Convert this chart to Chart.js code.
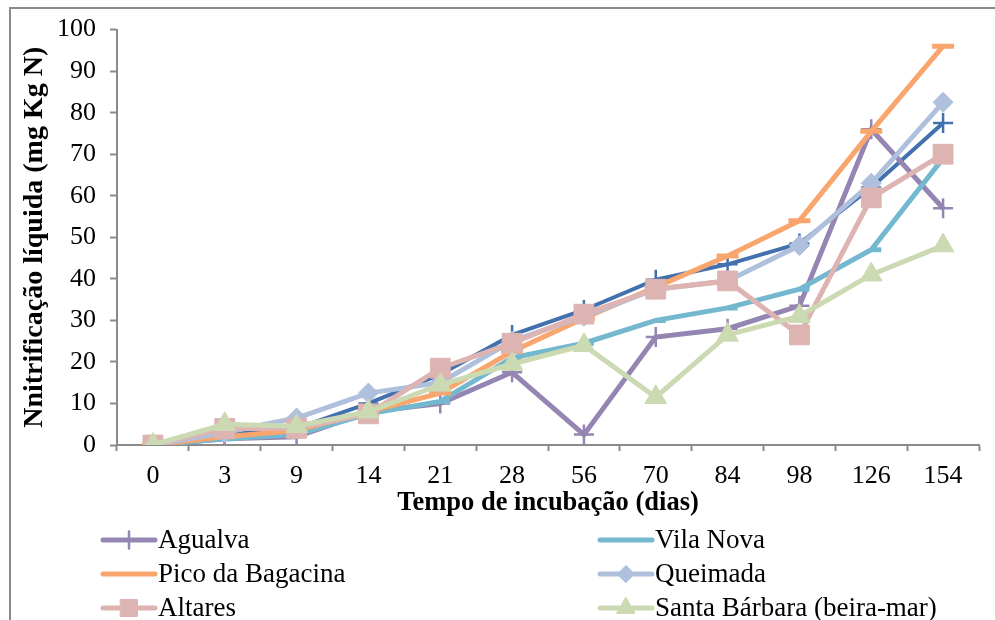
<!DOCTYPE html>
<html>
<head>
<meta charset="utf-8">
<script src="https://cdn.jsdelivr.net/npm/chart.js@4.4.1/dist/chart.umd.min.js"></script>
<style>
  html, body { margin: 0; padding: 0; background: #fff; }
  #wrap { position: relative; width: 995px; height: 620px; overflow: hidden; }
  #frame { position: absolute; left: 9px; top: 7px; width: 1000px; height: 700px;
           border-top: 2px solid #8a8a8a; border-left: 2px solid #8a8a8a; }
  canvas { position: absolute; left: 0; top: 0; }
</style>
</head>
<body>
<div id="wrap">
  <div id="frame"></div>
  <canvas id="chart" width="995" height="620"></canvas>
</div>
<script>
// categories (days of incubation)
const dias = ['0', '3', '9', '14', '21', '28', '56', '70', '84', '98', '126', '154'];

// series values
const serieAzul     = [0, 2.5, 4, 10, 17, 26.5, 32.5, 39.8, 43.5, 48.5, 62, 77.5]; // its legend entry is cut off
const agualva       = [0, 1.5, 2, 8, 10, 17.5, 2.5, 26, 28, 33.5, 76, 57];
const vilaNova      = [0, 1.5, 2.5, 7.5, 10.5, 21, 24.5, 30, 33, 37.5, 47, 69];
const picoBagacina  = [0, 2, 3.5, 8, 12.5, 22.5, 30.5, 38, 45.5, 54, 75.5, 96];
const queimada      = [0, 3, 6.5, 12.5, 15, 25, 31, 37.5, 39.5, 48, 63, 82.5];
const altares       = [0, 4, 4, 7.5, 18.5, 24.5, 31.5, 37.5, 39.5, 26.5, 59.5, 70];
const santaBarbara  = [0, 5, 4.5, 8, 14.5, 19.5, 24, 11.5, 26.5, 31, 41, 48];

const yTicksMax = 100;
const yTickStep = 10;

const serif = "'Liberation Serif', 'Times New Roman', serif";

function serie(label, data, color, style, radius, pointBorder, order) {
    return {
        label: label,
        data: data,
        borderColor: color,
        backgroundColor: color,
        pointBackgroundColor: color,
        pointBorderColor: color,
        borderWidth: 5,
        pointStyle: style,
        pointRadius: radius,
        pointHoverRadius: radius,
        pointBorderWidth: pointBorder,
        tension: 0,
        order: order
    };
}

const datasets = [
    serie('', serieAzul, '#4371AE', 'cross', 10, 2.5, 7),
    serie('Agualva', agualva, '#9585B2', 'cross', 10, 2.5, 6),
    serie('Vila Nova', vilaNova, '#73B8CE', 'dash', 10, 5, 5),
    serie('Pico da Bagacina', picoBagacina, '#F9A56E', 'line', 11, 5, 4),
    serie('Queimada', queimada, '#AFC0DC', 'rectRot', 10, 1, 3),
    serie('Altares', altares, '#DDB4B2', 'rect', 14, 1, 2),
    serie('Santa Bárbara (beira-mar)', santaBarbara, '#CBDAB2', 'triangle', 12.5, 1, 1)
];
datasets[0].borderWidth = 4;

// legend drawn on the canvas in two columns, like the original
const legendPlugin = {
    id: 'legendaDuasColunas',
    afterDraw: function(chart) {
        const ctx = chart.ctx;
        const cols = [103, 600];
        const rows = [540, 574, 608];
        ctx.save();
        ctx.font = '27px ' + serif;
        ctx.textBaseline = 'middle';
        ctx.fillStyle = '#000';
        for (let i = 1; i < chart.data.datasets.length; i++) {
            const ds = chart.data.datasets[i];
            const x = cols[(i - 1) % 2];
            const y = rows[Math.floor((i - 1) / 2)];
            ctx.strokeStyle = ds.borderColor;
            ctx.lineWidth = 5;
            ctx.lineCap = 'round';
            ctx.beginPath();
            ctx.moveTo(x, y);
            ctx.lineTo(x + 52, y);
            ctx.stroke();
            if (ds.pointStyle !== 'line' && ds.pointStyle !== 'dash') {
                ctx.fillStyle = ds.borderColor;
                ctx.lineWidth = ds.pointBorderWidth;
                Chart.helpers.drawPoint(ctx, {
                    pointStyle: ds.pointStyle,
                    radius: ds.pointRadius * 0.85,
                    borderWidth: ds.pointBorderWidth,
                    rotation: 0
                }, x + 26, y);
                if (ds.pointStyle !== 'cross') ctx.fill();
            }
            ctx.fillStyle = '#000';
            ctx.fillText(ds.label, x + 55, y + 1);
        }
        ctx.restore();
    }
};

const ctx = document.getElementById('chart').getContext('2d');
const chart = new Chart(ctx, {
    type: 'line',
    data: { labels: dias, datasets: datasets },
    options: {
        responsive: false,
        animation: false,
        layout: { padding: { left: 0, right: 16, top: 29, bottom: 0 } },
        plugins: {
            legend: { display: false },
            tooltip: { enabled: false }
        },
        scales: {
            x: {
                offset: true,
                grid: {
                    offset: true,
                    drawOnChartArea: false,
                    drawTicks: true,
                    tickLength: 6,
                    tickWidth: 2,
                    tickColor: '#8a8a8a'
                },
                border: { color: '#8a8a8a', width: 2 },
                ticks: {
                    color: '#000',
                    font: { family: serif, size: 26 },
                    padding: 10,
                    maxRotation: 0,
                    autoSkip: false
                },
                title: {
                    display: true,
                    text: 'Tempo de incubação (dias)',
                    color: '#000',
                    font: { family: serif, size: 26.5, weight: 'bold' },
                    padding: { top: 0, bottom: 101 }
                },
                afterFit: function(scale) { scale.height = 175; }
            },
            y: {
                min: 0,
                max: yTicksMax,
                grid: {
                    drawOnChartArea: false,
                    drawTicks: true,
                    tickLength: 7,
                    tickWidth: 2,
                    tickColor: '#8a8a8a'
                },
                border: { color: '#8a8a8a', width: 2 },
                ticks: {
                    stepSize: yTickStep,
                    color: '#000',
                    font: { family: serif, size: 26 },
                    padding: 14
                },
                title: {
                    display: true,
                    text: 'Nnitrificação líquida (mg Kg N)',
                    color: '#000',
                    font: { family: serif, size: 28, weight: 'bold' },
                    padding: { top: 18, bottom: 0 }
                },
                afterFit: function(scale) { scale.width = 117; }
            }
        }
    },
    plugins: [legendPlugin]
});
</script>
</body>
</html>
